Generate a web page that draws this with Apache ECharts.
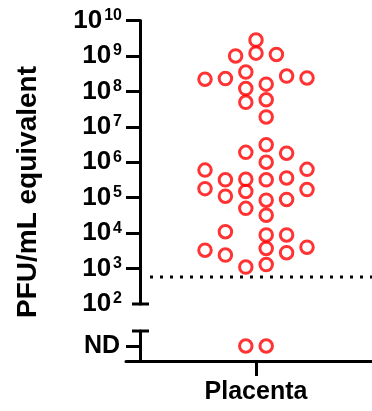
<!DOCTYPE html>
<html>
<head>
<meta charset="utf-8">
<script src="https://cdn.jsdelivr.net/npm/echarts@6/dist/echarts.min.js"></script>
<style>
  html, body { margin: 0; padding: 0; background: #fff; }
  #chart { width: 372px; height: 411px; }
</style>
</head>
<body>
<div id="chart"></div>
<script>
// data
const categories = ['Placenta'];
const decades = [1e2, 1e3, 1e4, 1e5, 1e6, 1e7, 1e8, 1e9, 1e10];
// PFU/mL equivalent, one per sample (ND samples kept apart)
const titers = [
  2.8e9, 1.0e9, 1.2e9, 1.1e9,
  2.2e8, 2.3e8, 3.5e8, 2.7e8, 2.4e8, 1.2e8, 1.6e8, 4.9e7, 5.8e7, 1.9e7,
  3.1e6, 1.9e6, 1.8e6, 1.0e6, 6.0e5, 6.3e5,
  3.2e5, 3.3e5, 3.2e5, 3.6e5, 1.8e5, 1.7e5, 1.5e5, 1.1e5, 8.5e4, 8.9e4, 5.0e4, 3.2e4,
  1.1e4, 8.9e3, 8.9e3, 3.3e3, 4.0e3, 3.7e3, 2.4e3, 2.8e3, 1.1e3, 1.3e3
];
// beeswarm column of each point (in symbol widths from the category centre)
const columns = [
  0, -2, 0, 2,
  -5, -3, -1, 3, 5, -1, 1, -1, 1, 1,
  1, -1, 3, 1, -5, 5,
  -3, -1, 1, 3, -5, 5, -1, -3, 1, 3, -1, 1,
  -3, 1, 3, -5, 5, 1, -3, 3, -1, 1
];
const ndColumns = [-1, 1];
const detectionLimit = 580;

// layout
const axisX = 140, plotTop = 20.5, plotBottom = 304;
const ndTop = 331, ndBottom = 361;
const centreX = 256, colW = 10.2, rightX = 372, tickLen = 14;
const font = "'Liberation Sans', Arial, sans-serif";
const red = '#ff0000';

const chart = echarts.init(document.getElementById('chart'));

const lineStyle = { color: '#000', width: 3 };
const points = titers.map((v, i) => [columns[i], v]);
const ndPoints = ndColumns.map(c => [c, 1]);

const circle = {
  symbol: 'circle',
  symbolSize: 12.5,
  itemStyle: { color: 'rgba(0,0,0,0)', borderColor: red, borderWidth: 3 },
  silent: true
};

chart.setOption({
  animation: false,
  grid: [
    { left: axisX, top: plotTop, width: rightX - axisX, height: plotBottom - plotTop },
    { left: axisX - tickLen, top: ndTop, width: rightX - axisX + tickLen, height: ndBottom - ndTop }
  ],
  xAxis: [
    {
      gridIndex: 0, type: 'value', show: false,
      min: (axisX - centreX) / colW, max: (rightX - centreX) / colW
    },
    {
      gridIndex: 1, type: 'value',
      min: (axisX - tickLen - centreX) / colW, max: (rightX - centreX) / colW,
      axisLine: { onZero: false, lineStyle },
      axisTick: { customValues: [0], length: 15, lineStyle },
      axisLabel: {
        customValues: [0], formatter: () => categories[0], margin: 19,
        color: '#000', fontSize: 25, fontWeight: 'bold', fontFamily: font
      },
      splitLine: { show: false }
    }
  ],
  yAxis: [
    {
      gridIndex: 0, type: 'log', logBase: 10, min: 1e2, max: 1e10,
      axisLine: { onZero: false, lineStyle },
      axisTick: { customValues: decades.slice(1), length: tickLen, lineStyle },
      axisLabel: {
        margin: 18,
        formatter: v => '{b|10}{s|' + Math.round(Math.log10(v)) + '}',
        rich: {
          b: { fontSize: 26, fontWeight: 'bold', fontFamily: font, color: '#000', lineHeight: 26 },
          s: { fontSize: 16, fontWeight: 'bold', fontFamily: font, color: '#000', verticalAlign: 'top', padding: [0, 0, 0, 2] }
        }
      },
      splitLine: { show: false }
    },
    {
      gridIndex: 1, type: 'value', min: 0, max: 2, offset: -tickLen,
      axisLine: { onZero: false, lineStyle },
      axisTick: { customValues: [1], length: tickLen, lineStyle },
      axisLabel: {
        customValues: [1], formatter: () => 'ND', margin: 20,
        color: '#000', fontSize: 25, fontWeight: 'bold', fontFamily: font
      },
      splitLine: { show: false }
    }
  ],
  series: [
    {
      type: 'line', xAxisIndex: 0, yAxisIndex: 0, silent: true, symbol: 'none',
      data: [[(150 - centreX) / colW, detectionLimit], [(rightX - centreX) / colW, detectionLimit]],
      lineStyle: { color: '#000', width: 3, type: [3, 7] }
    },
    Object.assign({ type: 'scatter', xAxisIndex: 0, yAxisIndex: 0, data: points }, circle),
    Object.assign({ type: 'scatter', xAxisIndex: 1, yAxisIndex: 1, data: ndPoints }, circle)
  ],
  graphic: [
    { type: 'line', shape: { x1: 132, y1: plotBottom, x2: 149, y2: plotBottom }, style: { stroke: '#000', lineWidth: 3 } },
    { type: 'line', shape: { x1: 132, y1: ndTop, x2: 149, y2: ndTop }, style: { stroke: '#000', lineWidth: 3 } },
    {
      type: 'text', x: 28, y: 192, rotation: Math.PI / 2,
      style: {
        text: 'PFU/mL equivalent', fill: '#000', align: 'center', verticalAlign: 'middle',
        font: 'bold 28px ' + font
      }
    }
  ]
});
</script>
</body>
</html>
